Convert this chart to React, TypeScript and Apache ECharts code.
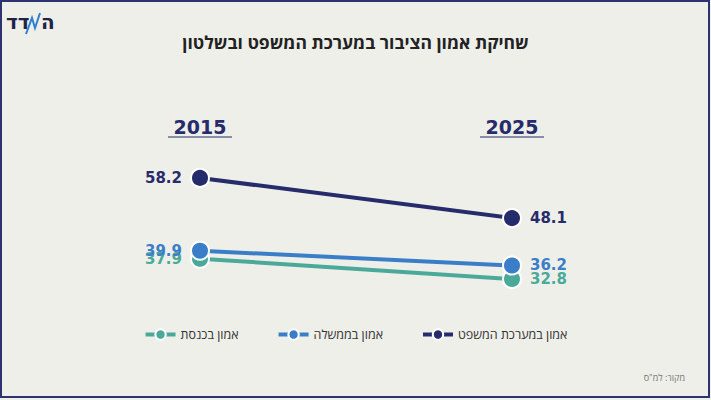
import React, { useEffect, useRef } from "react";
import * as echarts from "echarts";

const years = ["2015", "2025"];
const seriesNames = ["אמון בכנסת", "אמון בממשלה", "אמון במערכת המשפט"];
const knesset = [37.9, 32.8];
const government = [39.9, 36.2];
const judiciary = [58.2, 48.1];
const colors = ["#4ba99a", "#3b7ec8", "#262b6b"];

export default function App() {
  const ref = useRef<HTMLDivElement>(null);
  useEffect(() => {
    if (!ref.current) return;
    const chart = echarts.init(ref.current, null, { renderer: "svg" });
    const font = "'DejaVu Sans', 'Open Sans', sans-serif";
    const hfont = "'Open Sans', 'DejaVu Sans', sans-serif";
    const mk = (name: string, data: number[], color: string) => ({
      type: "line",
      name,
      data: data.map((v, i) => ({
        value: v,
        label: {
          position: i === 0 ? "left" : "right",
          distance: 8,
        },
      })),
      color,
      symbol: "circle",
      symbolSize: 18,
      lineStyle: { width: 4, color },
      itemStyle: { color, borderColor: "#ffffff", borderWidth: 2 },
      label: {
        show: true,
        color,
        fontSize: 15,
        fontWeight: "bold",
        fontFamily: font,
      },
      z: 3,
    });
    chart.setOption({
      animation: false,
      backgroundColor: "#efefea",
      title: {
        text: "שחיקת אמון הציבור במערכת המשפט ובשלטון",
        left: "center",
        top: 28,
        textStyle: { fontSize: 17.5, fontWeight: "bold", color: "#222222", fontFamily: hfont },
      },
      grid: { left: 200, right: 199, top: 111, bottom: 70 },
      xAxis: {
        type: "category",
        data: years,
        boundaryGap: false,
        position: "top",
        axisLine: { show: false },
        axisTick: { show: false },
        splitLine: { show: false },
        axisLabel: {
          inside: true,
          margin: 6,
          fontSize: 19,
          fontWeight: "bold",
          color: "#262b6b",
          fontFamily: font,
        },
      },
      yAxis: {
        type: "value",
        min: 20,
        max: 75,
        show: false,
        splitLine: { show: false },
      },
      legend: {
        bottom: 54,
        left: "center",
        itemWidth: 30,
        itemHeight: 13,
        itemGap: 38,
        data: seriesNames,
        lineStyle: { width: 4 },
        textStyle: { fontSize: 12.5, color: "#333333", fontFamily: hfont },
      },
      series: [
        mk(seriesNames[0], knesset, colors[0]),
        mk(seriesNames[1], government, colors[1]),
        mk(seriesNames[2], judiciary, colors[2]),
      ],
      graphic: [
        {
          type: "rect",
          shape: { x: 1, y: 1, width: 708, height: 396 },
          style: { fill: "none", stroke: "#2d3270", lineWidth: 2 },
          silent: true,
        },
        { type: "line", shape: { x1: 168, y1: 137, x2: 232, y2: 137 }, style: { stroke: "#262b6b", lineWidth: 1 } },
        { type: "line", shape: { x1: 480, y1: 137, x2: 544, y2: 137 }, style: { stroke: "#262b6b", lineWidth: 1 } },
        {
          type: "text",
          x: 6,
          y: 12,
          style: { text: "דד", fontSize: 20, fontWeight: "bold", fill: "#1f2347", fontFamily: font },
        },
        {
          type: "polyline",
          shape: { points: [[26, 34], [32, 18], [35, 28], [40, 13]] },
          style: { stroke: "#2f7fd0", lineWidth: 2, fill: "none" },
        },
        {
          type: "text",
          x: 41,
          y: 12,
          style: { text: "ה", fontSize: 20, fontWeight: "bold", fill: "#1f2347", fontFamily: font },
        },
        {
          type: "text",
          right: 26,
          top: 373,
          style: { text: "מקור: למ\"ס", fontSize: 9, fill: "#777777", fontFamily: hfont },
        },
      ],
    });
    return () => chart.dispose();
  }, []);
  return (
    <div
      ref={ref}
      style={{ position: "fixed", left: 0, top: 0, width: 711, height: 400 }}
    />
  );
}
